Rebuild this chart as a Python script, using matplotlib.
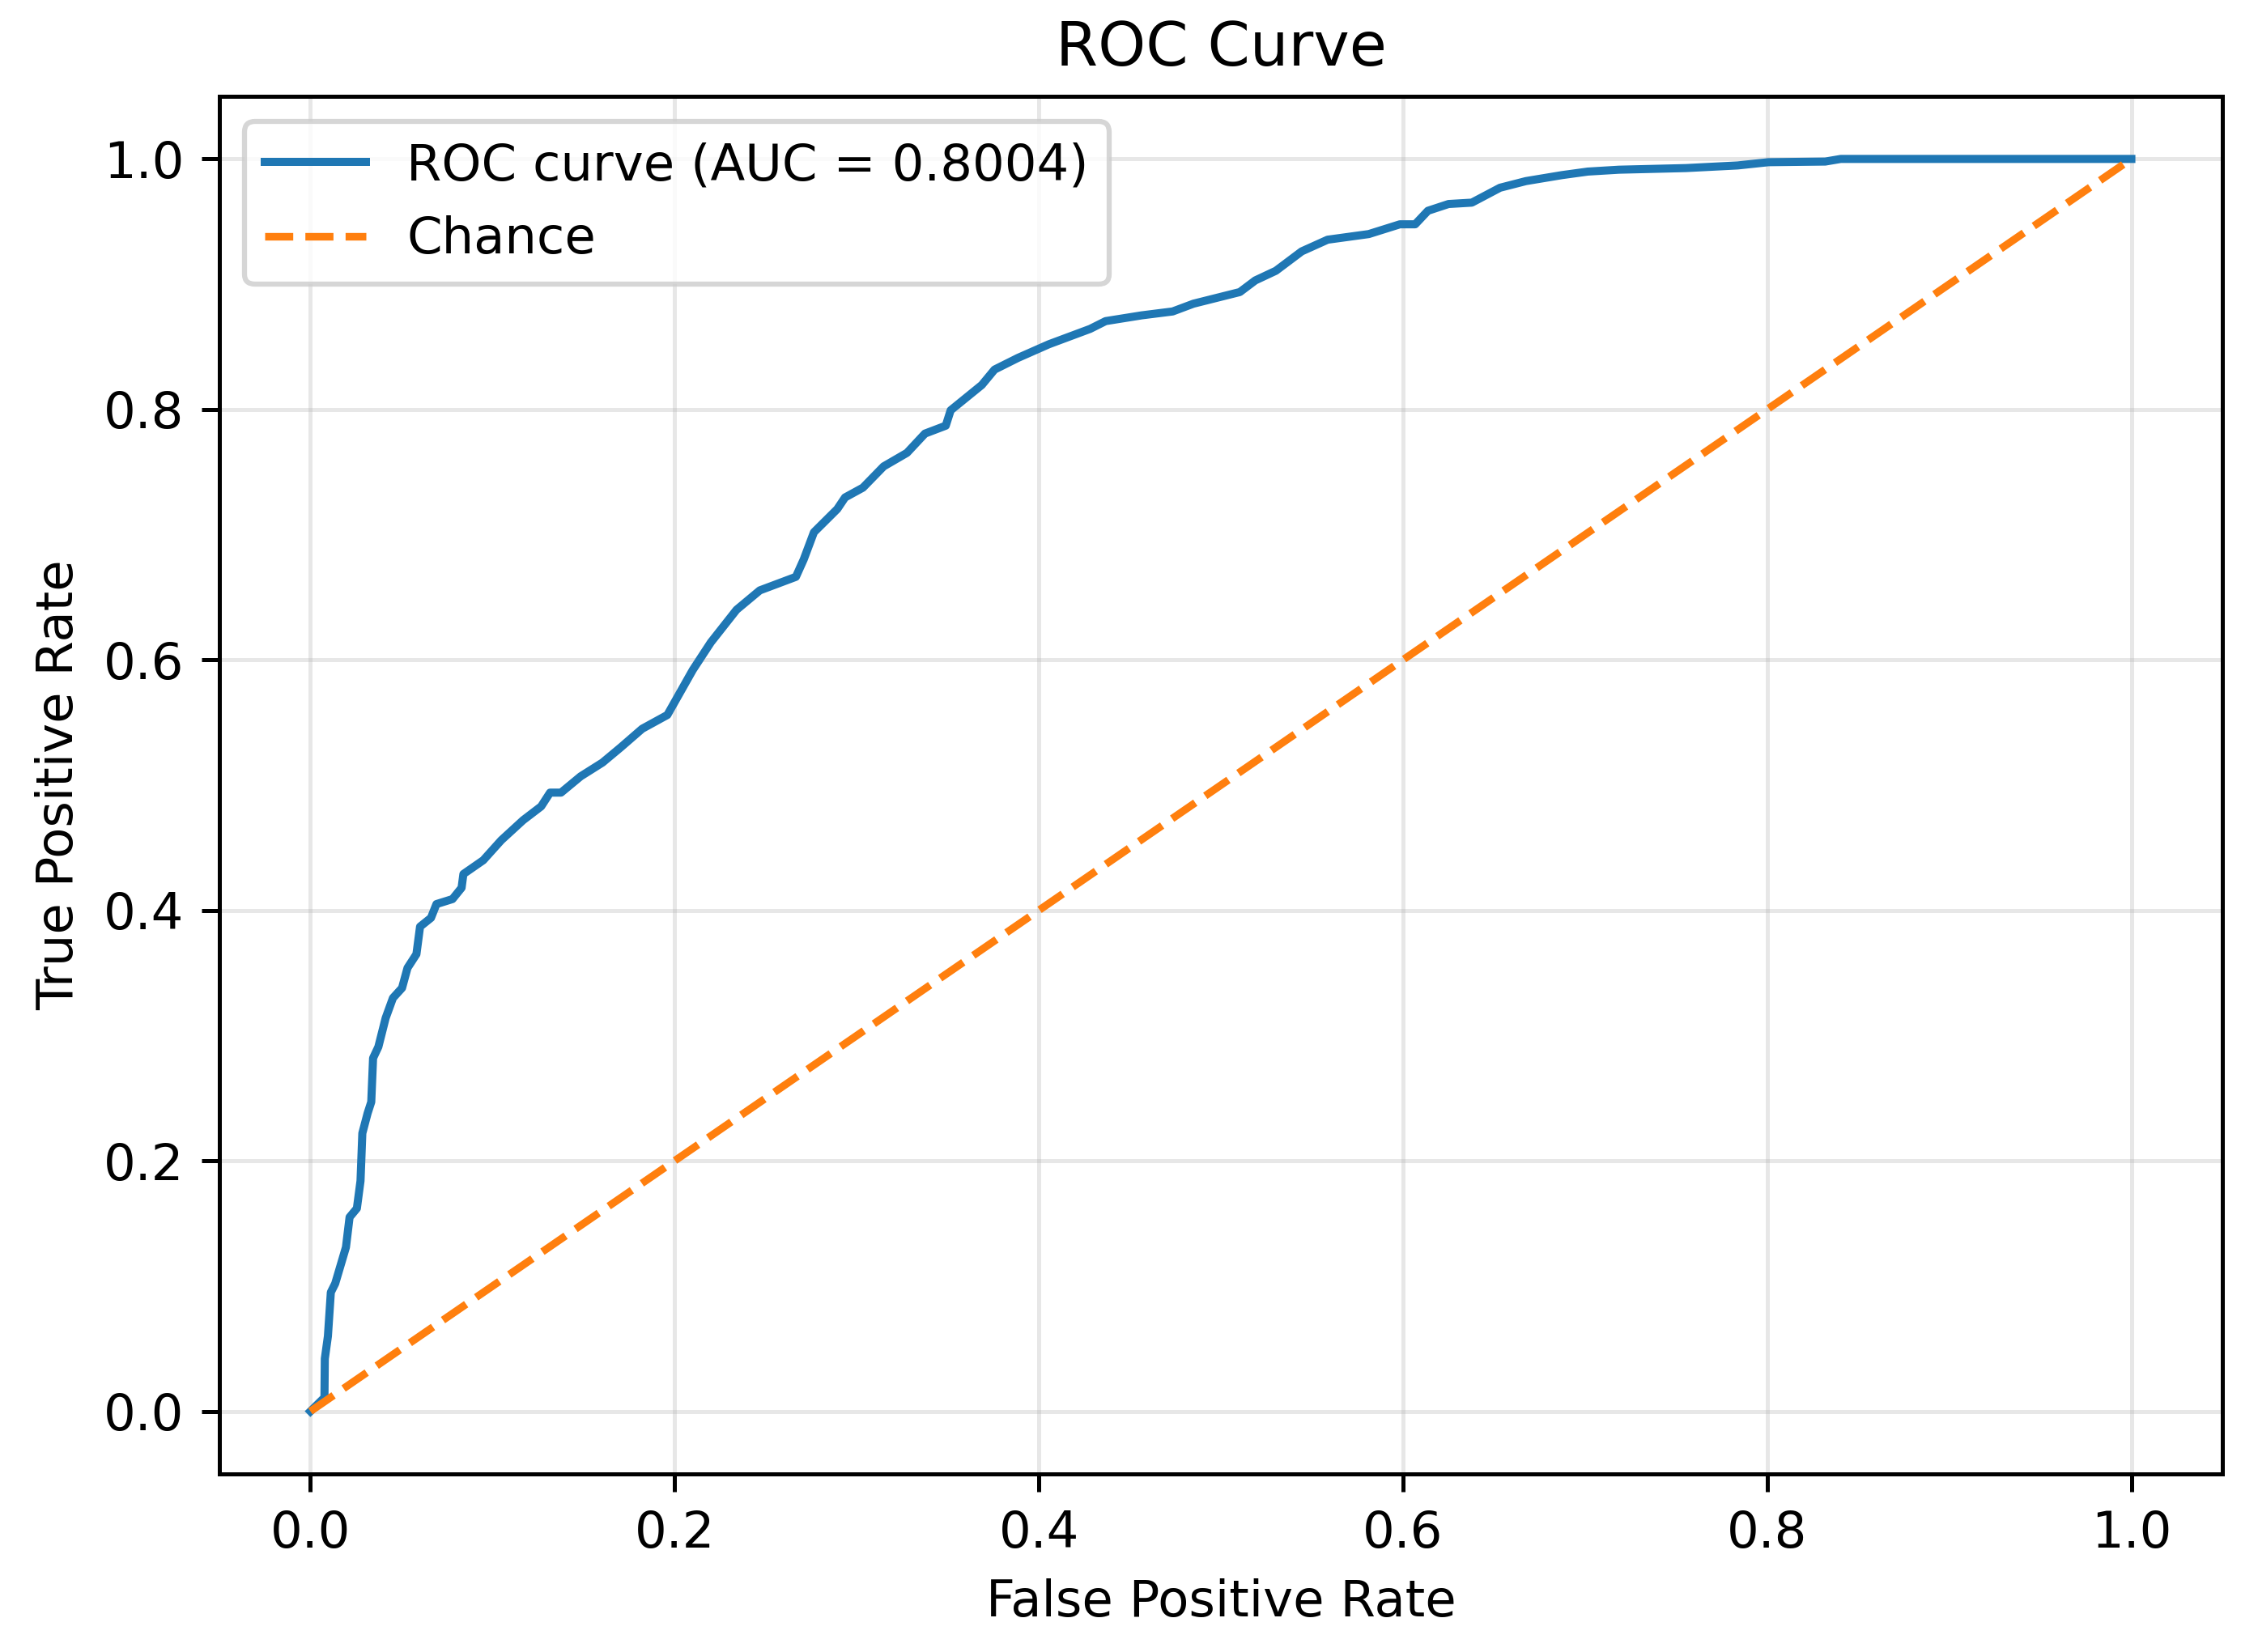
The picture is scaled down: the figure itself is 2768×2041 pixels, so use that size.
import matplotlib
matplotlib.use("Agg")
import matplotlib.pyplot as plt

# ROC points
fpr = [0.0, 0.0077, 0.0079, 0.0096, 0.0112, 0.0136, 0.0195, 0.0215, 0.0255, 0.0275,
       0.0285, 0.0314, 0.0334, 0.0344, 0.0373, 0.0413, 0.0453, 0.0503, 0.0533, 0.0582,
       0.0602, 0.0662, 0.0692, 0.0780, 0.0830, 0.0840, 0.0949, 0.1048, 0.1168, 0.1267,
       0.1316, 0.1376, 0.1484, 0.1604, 0.1703, 0.1822, 0.1960, 0.2100, 0.2199, 0.2340,
       0.2468, 0.2666, 0.2709, 0.2765, 0.2893, 0.2936, 0.3034, 0.3148, 0.3276, 0.3375,
       0.3489, 0.3516, 0.3687, 0.3757, 0.3885, 0.4055, 0.4282, 0.4367, 0.4565, 0.4735,
       0.4849, 0.5104, 0.5189, 0.5302, 0.5444, 0.5586, 0.5812, 0.5983, 0.6067, 0.6137,
       0.6250, 0.6378, 0.6533, 0.6675, 0.6874, 0.7015, 0.7186, 0.7554, 0.7838, 0.8007,
       0.8319, 0.8404, 1.0]
tpr = [0.0, 0.011, 0.042, 0.060, 0.095, 0.102, 0.131, 0.155, 0.162, 0.184,
       0.222, 0.238, 0.247, 0.282, 0.291, 0.314, 0.330, 0.338, 0.354, 0.365,
       0.387, 0.394, 0.405, 0.409, 0.418, 0.429, 0.440, 0.456, 0.472, 0.483,
       0.494, 0.494, 0.507, 0.518, 0.530, 0.545, 0.556, 0.592, 0.614, 0.640,
       0.6555, 0.6663, 0.6802, 0.7019, 0.7204, 0.7297, 0.7375, 0.7545, 0.7653, 0.7807,
       0.7870, 0.7993, 0.8195, 0.8318, 0.8411, 0.852, 0.8643, 0.8705, 0.8751, 0.8782,
       0.8844, 0.8937, 0.903, 0.9107, 0.9262, 0.9355, 0.940, 0.9478, 0.9478, 0.9586,
       0.964, 0.9651, 0.977, 0.9823, 0.9871, 0.9899, 0.9914, 0.9927, 0.9948, 0.9974,
       0.9979, 1.0, 1.0]
auc_value = 0.8004

chance_x = [0, 1]
chance_y = [0, 1]

fig, ax = plt.subplots(figsize=(2768 / 450, 2041 / 450), dpi=450)
fig.subplots_adjust(left=0.0979, right=0.9917, top=0.9417, bottom=0.1078)

ax.plot(fpr, tpr, color='#1f77b4', lw=1.6, label=f'ROC curve (AUC = {auc_value:.4f})')
ax.plot(chance_x, chance_y, color='#ff7f0e', lw=1.5, linestyle='--', label='Chance')

ax.set_xlabel('False Positive Rate')
ax.set_ylabel('True Positive Rate')
ax.set_title('ROC Curve')
ax.grid(True, alpha=0.3)
ax.legend(loc='upper left')

fig.savefig('out.png', dpi=450)
